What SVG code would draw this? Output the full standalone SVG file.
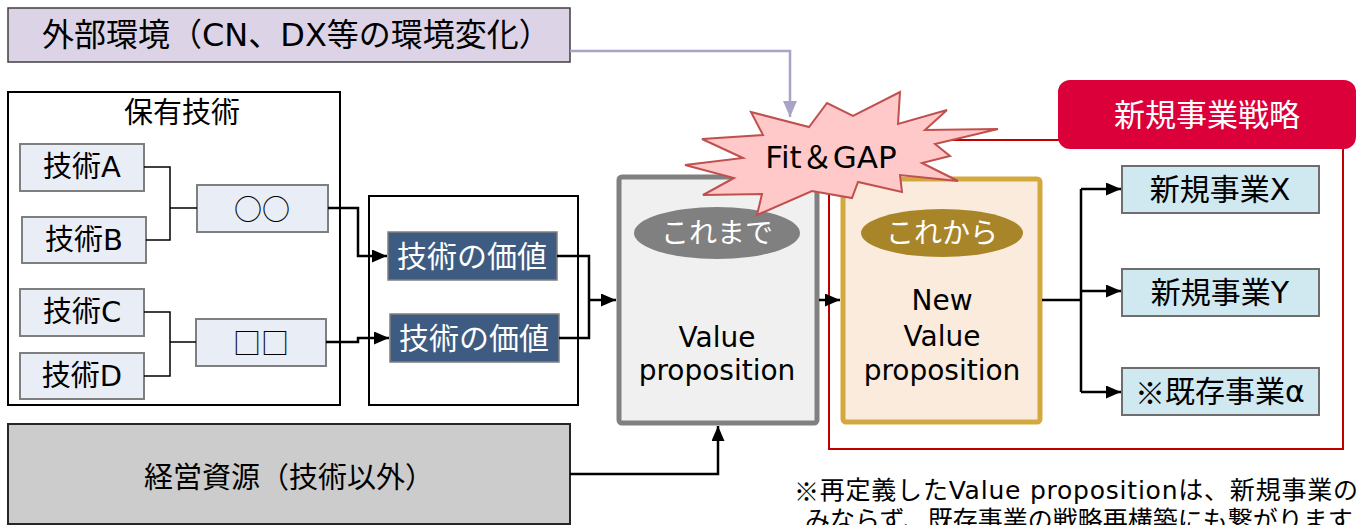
<svg xmlns="http://www.w3.org/2000/svg" width="1371" height="525" viewBox="0 0 1371 525">
<defs>
<style>
text{font-family:"DejaVu Sans","Noto Sans CJK JP",sans-serif;dominant-baseline:central;text-anchor:middle;fill:#000}
.s{text-anchor:start}
.w{fill:#fff}
.cjk{font-family:"Noto Sans CJK JP",sans-serif}
.tech{fill:#E9EDF6;stroke:#7F7F7F;stroke-width:2}
.val{fill:#3E5C82;stroke:#7F7F7F;stroke-width:1.5}
.biz{fill:#D0E8EF;stroke:#6E6E6E;stroke-width:2}
.thin{fill:none;stroke:#000;stroke-width:1.5}
.arr{fill:none;stroke:#000;stroke-width:2.5;marker-end:url(#ah)}
</style>
<marker id="ah" markerWidth="15" markerHeight="13" refX="15" refY="6.5" orient="auto" markerUnits="userSpaceOnUse"><path d="M0,0L15,6.5L0,13z" fill="#000"/></marker>
<marker id="ahl" markerWidth="16" markerHeight="14" refX="16" refY="7" orient="auto" markerUnits="userSpaceOnUse"><path d="M0,0L16,7L0,14z" fill="#A9A3C5"/></marker>
</defs>
<rect width="1371" height="525" fill="#fff"/>

<g id="strategy-frame">
<rect x="829" y="140" width="514" height="309" fill="none" stroke="#C00000" stroke-width="2"/>
</g>

<g id="env">
<rect x="8" y="8" width="562" height="54" fill="#DCD4E6" stroke="#3F3F3F" stroke-width="1.5"/>
<text class="s" x="42" y="35" font-size="32">外部環境（CN、DX等の環境変化）</text>
</g>

<g id="owned-tech">
<rect x="8" y="92" width="332" height="313" fill="#fff" stroke="#000" stroke-width="2"/>
<text x="182" y="113" font-size="29">保有技術</text>
</g>
<g id="techA"><rect class="tech" x="20" y="144" width="124" height="47"/><text x="82" y="167" font-size="29">技術A</text></g>
<g id="techB"><rect class="tech" x="22" y="217" width="124" height="46"/><text x="84" y="240" font-size="29">技術B</text></g>
<g id="techC"><rect class="tech" x="20" y="289" width="124" height="47"/><text x="82" y="312" font-size="29">技術C</text></g>
<g id="techD"><rect class="tech" x="20" y="353" width="124" height="46"/><text x="82" y="376" font-size="29">技術D</text></g>
<g id="combo1"><rect class="tech" x="197" y="185" width="131" height="47"/><text class="cjk" x="262" y="208" font-size="28">○○</text></g>
<g id="combo2"><rect class="tech" x="196" y="319" width="130" height="47"/><text class="cjk" x="261" y="342" font-size="28">□□</text></g>

<g id="value-frame"><rect x="369" y="196" width="209" height="209" fill="#fff" stroke="#000" stroke-width="2"/></g>
<g id="value1"><rect class="val" x="388" y="232" width="169" height="48"/><text class="w" x="472" y="256" font-size="30">技術の価値</text></g>
<g id="value2"><rect class="val" x="390" y="314" width="169" height="48"/><text class="w" x="474" y="338" font-size="30">技術の価値</text></g>

<g id="resources">
<rect x="8" y="424" width="562" height="100" fill="#CCCCCC" stroke="#262626" stroke-width="2"/>
<text x="289" y="478" font-size="29">経営資源（技術以外）</text>
</g>

<g id="vp-current">
<rect x="619" y="177" width="198" height="246" rx="3" fill="#F0F0F0" stroke="#808080" stroke-width="5"/>
<ellipse cx="717" cy="233" rx="83" ry="26" fill="#808080"/>
<text class="w" x="717" y="233" font-size="28">これまで</text>
<text x="717" y="337" font-size="28">Value</text>
<text x="717" y="370" font-size="28">proposition</text>
</g>

<g id="vp-new">
<rect x="843" y="179" width="197" height="243" rx="3" fill="#FBEBDD" stroke="#D3A93F" stroke-width="5"/>
<ellipse cx="942" cy="233" rx="81" ry="24" fill="#A9852A"/>
<text class="w" x="942" y="233" font-size="28">これから</text>
<text x="942" y="300" font-size="28">New</text>
<text x="942" y="336" font-size="28">Value</text>
<text x="942" y="370" font-size="28">proposition</text>
</g>

<g id="fit-gap">
<polygon points="685,165 743,158 702,139 763,135 751,112 809,127 827,103 853,116 900,92 898,124 947,110 925,130 998,129 935,144 950,156 922,163 958,181 900,175 902,192 858,182 852,198 812,191 757,215 762,194 703,195 734,178" fill="#FFC9C9" stroke="#C0504D" stroke-width="2" stroke-linejoin="miter"/>
<text x="831" y="157" font-size="31">Fit＆GAP</text>
</g>

<g id="strategy-label">
<rect x="1058" y="80" width="298" height="69" rx="12" fill="#DC003A"/>
<text class="w" x="1207" y="115" font-size="31">新規事業戦略</text>
</g>

<g id="bizX"><rect class="biz" x="1122" y="166" width="197" height="47"/><text x="1220" y="189" font-size="30">新規事業X</text></g>
<g id="bizY"><rect class="biz" x="1122" y="269" width="197" height="47"/><text x="1220" y="292" font-size="30">新規事業Y</text></g>
<g id="bizA"><rect class="biz" x="1122" y="368" width="197" height="47"/><text x="1220" y="391" font-size="30"><tspan class="cjk">※</tspan>既存事業α</text></g>

<g id="note">
<text class="s" x="794" y="490" font-size="25" textLength="564" lengthAdjust="spacing"><tspan class="cjk">※</tspan>再定義したValue propositionは、新規事業の</text>
<text class="s" x="805" y="520" font-size="25">みならず、既存事業の戦略再構築にも繋がります</text>
</g>

<g id="connectors">
<path d="M570,51H790V117" fill="none" stroke="#A9A3C5" stroke-width="2.5" marker-end="url(#ahl)"/>
<path class="thin" d="M144,167H170V240H146M170,208H197"/>
<path class="thin" d="M144,312H170V376H144M170,342H196"/>
<path class="arr" d="M328,208H358V256H387"/>
<path class="arr" d="M326,342H358V338H389"/>
<path fill="none" stroke="#000" stroke-width="2.5" d="M557,256H589V338H559"/>
<path class="arr" d="M589,300H616"/>
<path class="arr" d="M819,300H840"/>
<path class="arr" d="M570,474H718V426"/>
<path fill="none" stroke="#000" stroke-width="2.5" d="M1042,300H1081M1081,189V392"/>
<path class="arr" d="M1081,189H1121"/>
<path class="arr" d="M1081,291H1121"/>
<path class="arr" d="M1081,392H1121"/>
</g>
</svg>
